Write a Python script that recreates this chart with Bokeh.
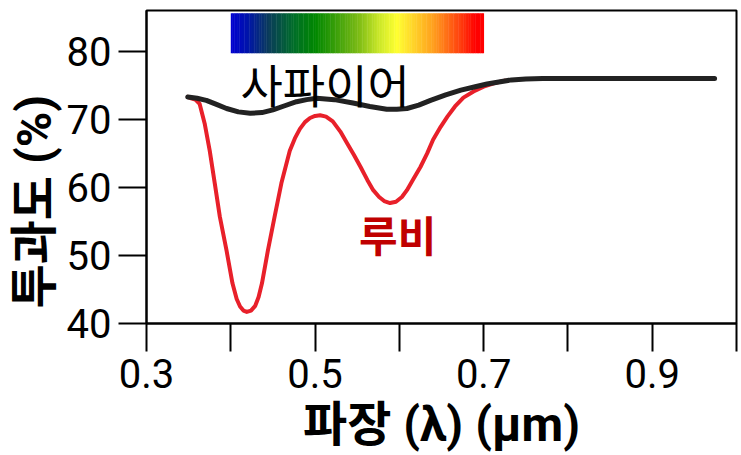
from bokeh.plotting import figure
from bokeh.models import FixedTicker, Range1d, Title
from bokeh.core.properties import value
from bokeh.embed import file_html
from bokeh.resources import INLINE

# ---- data ----
sapphire_x = [0.349, 0.360, 0.371, 0.383, 0.395, 0.409, 0.423, 0.437, 0.450, 0.464,
              0.478, 0.490, 0.502, 0.523, 0.545, 0.565, 0.585, 0.597, 0.609, 0.623,
              0.637, 0.655, 0.673, 0.690, 0.704, 0.718, 0.733, 0.750, 0.770, 0.800,
              0.900, 0.974]
sapphire_y = [73.3, 73.1, 72.8, 72.2, 71.6, 71.1, 70.9, 71.0, 71.4, 72.0,
              72.6, 72.9, 73.1, 72.9, 72.4, 71.9, 71.5, 71.5, 71.6, 72.1,
              72.8, 73.6, 74.3, 74.8, 75.2, 75.5, 75.8, 75.95, 76.0, 76.0,
              76.0, 76.0]

ruby_x = [0.349, 0.353, 0.358, 0.363, 0.369, 0.375, 0.381, 0.387, 0.395, 0.402,
          0.407, 0.411, 0.415, 0.419, 0.424, 0.429, 0.433, 0.437, 0.444, 0.452,
          0.460, 0.470, 0.476, 0.482, 0.488, 0.494, 0.500, 0.506, 0.513, 0.521,
          0.530, 0.538, 0.546, 0.554, 0.562, 0.569, 0.576, 0.582, 0.589, 0.596,
          0.603, 0.609, 0.617, 0.625, 0.633, 0.640, 0.649, 0.657, 0.666, 0.676,
          0.688, 0.700, 0.712, 0.725]
ruby_y = [73.3, 73.1, 72.9, 72.3, 69.4, 65.4, 60.6, 55.7, 50.7, 45.9,
          43.6, 42.5, 41.9, 41.7, 41.9, 42.6, 43.9, 45.9, 50.7, 55.7,
          60.6, 65.4, 67.2, 68.6, 69.6, 70.2, 70.5, 70.6, 70.4, 69.7,
          68.2, 66.5, 64.8, 63.0, 61.1, 59.6, 58.6, 58.0, 57.7, 57.9,
          58.6, 59.6, 61.3, 63.0, 65.0, 67.0, 68.9, 70.4, 71.9, 73.2,
          74.1, 74.8, 75.3, 75.7]

spectrum_x = [0.400, 0.420, 0.445, 0.475, 0.500, 0.550, 0.575, 0.597, 0.640, 0.670, 0.690, 0.700]
spectrum_rgb = [(0, 0, 210), (0, 20, 170), (10, 60, 90), (0, 110, 40), (0, 135, 0),
                (120, 185, 20), (200, 230, 40), (255, 255, 50), (255, 160, 30),
                (255, 70, 15), (255, 0, 0), (255, 0, 0)]
spectrum_y = [79.7, 85.6]

x_major = [0.3, 0.5, 0.7, 0.9]
x_minor = [0.4, 0.6, 0.8, 1.0]
y_ticks = [40, 50, 60, 70, 80]

labels_text = ["사파이어", "루비"]
labels_x = [0.512, 0.598]
labels_y = [75.4, 53.2]

x_title = "파장 (λ) (μm)"
y_title = "투과도 (%)"

TICKFONT = "Roboto, 'Noto Sans CJK KR'"
TITLEFONT = "Roboto, 'Noto Sans CJK KR'"

p = figure(width=741, height=455, x_range=Range1d(0.3, 1.0), y_range=Range1d(40, 86),
           output_backend="svg", toolbar_location=None,
           min_border_left=146, min_border_top=10, min_border_right=5, min_border_bottom=0)
p.grid.visible = False
p.outline_line_color = "black"
p.outline_line_width = 2
p.background_fill_color = "white"
p.border_fill_color = "white"

# spectrum gradient (interpolated colour stops)
n = 150
lefts, rights, cols = [], [], []
for i in range(n):
    x0 = spectrum_x[0] + (spectrum_x[-1] - spectrum_x[0]) * i / n
    x1 = spectrum_x[0] + (spectrum_x[-1] - spectrum_x[0]) * (i + 1) / n
    xm = (x0 + x1) / 2
    for k in range(len(spectrum_x) - 1):
        if spectrum_x[k] <= xm <= spectrum_x[k + 1]:
            t = (xm - spectrum_x[k]) / (spectrum_x[k + 1] - spectrum_x[k])
            c = tuple(int(round(a + (b - a) * t)) for a, b in zip(spectrum_rgb[k], spectrum_rgb[k + 1]))
            break
    lefts.append(x0)
    rights.append(x1 + 0.0005)
    cols.append("#%02x%02x%02x" % c)
p.quad(left=lefts, right=rights, bottom=spectrum_y[0], top=spectrum_y[1], color=cols, line_color=None)

p.line(ruby_x, ruby_y, line_color="#e8202a", line_width=4, line_join="round", line_cap="round")
p.line(sapphire_x, sapphire_y, line_color="#222222", line_width=5, line_cap="round", line_join="round")

p.text(x=[labels_x[0]], y=[labels_y[0]], text=[labels_text[0]], text_color="black",
       text_font=value("Noto Sans CJK KR"), text_font_size="46px", text_font_style="normal",
       text_align="center", text_baseline="middle")
p.text(x=[labels_x[1]], y=[labels_y[1]], text=[labels_text[1]], text_color="#c00000",
       text_font=value("Noto Sans CJK KR"), text_font_size="42px", text_font_style="bold",
       text_align="center", text_baseline="middle")

p.xaxis.ticker = FixedTicker(ticks=x_major, minor_ticks=x_minor)
p.yaxis.ticker = FixedTicker(ticks=y_ticks)
for ax in (p.xaxis, p.yaxis):
    ax.axis_line_width = 2
    ax.axis_line_color = "black"
    ax.major_tick_line_width = 2
    ax.major_tick_line_color = "black"
    ax.major_tick_in = 0
    ax.major_tick_out = 28
    ax.major_label_text_font = TICKFONT
    ax.major_label_text_font_size = "40px"
    ax.major_label_text_color = "black"
p.xaxis.axis_label_text_font = TITLEFONT
p.xaxis.axis_label_text_font_size = "48px"
p.xaxis.axis_label_text_font_style = "bold"
p.xaxis.axis_label_text_color = "black"
p.xaxis.minor_tick_line_width = 2
p.xaxis.minor_tick_line_color = "black"
p.xaxis.minor_tick_in = 0
p.xaxis.minor_tick_out = 28
p.yaxis.minor_tick_line_color = None
p.xaxis.major_label_standoff = 7
p.yaxis.major_label_standoff = 7
p.xaxis.axis_label = x_title
p.xaxis.axis_label_standoff = 5

# y-axis title as a side title, starting a little above the frame's bottom
p.add_layout(Title(text=y_title, align="left", offset=15, standoff=2,
                   text_font=TITLEFONT, text_font_size="48px", text_font_style="bold",
                   text_color="black"), "left")

open("out.html", "w").write(file_html(p, INLINE))
